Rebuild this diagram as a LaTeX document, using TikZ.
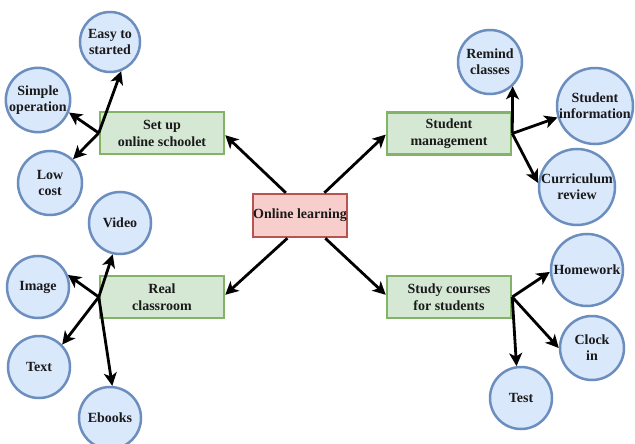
\documentclass[tikz,border=0pt]{standalone}
\usepackage{fontspec}
\setmainfont{Liberation Serif}
\usetikzlibrary{arrows.meta}
\definecolor{cfill}{HTML}{DAE8FC}
\definecolor{cdraw}{HTML}{6C8EBF}
\definecolor{gfill}{HTML}{D5E8D4}
\definecolor{gdraw}{HTML}{82B366}
\definecolor{rfill}{HTML}{F8CECC}
\definecolor{rdraw}{HTML}{B85450}
\definecolor{txt}{HTML}{1A1A1A}
\tikzset{
  bubble/.style={circle, draw=cdraw, fill=cfill, line width=2.5pt, inner sep=0pt,
    align=center, text=txt, font=\fontsize{14}{16}\selectfont\bfseries},
  grp/.style={rectangle, draw=gdraw, fill=gfill, line width=2.5pt, inner sep=0pt,
    minimum width=124pt, minimum height=42pt, align=center, text=txt,
    font=\fontsize{14}{17}\selectfont\bfseries},
  hub/.style={rectangle, draw=rdraw, fill=rfill, line width=2.5pt, inner sep=0pt,
    minimum width=94pt, minimum height=43pt, align=center, text=txt,
    font=\fontsize{14}{17}\selectfont\bfseries},
  arr/.style={line width=2.8pt, -{Stealth[length=13pt,width=13pt,inset=3.5pt]}}
}
\begin{document}
\begin{tikzpicture}[x=1pt,y=-1pt]
\useasboundingbox (0,0) rectangle (635,444);
% hub
\node[hub] (ol) at (300,215.5) {Online learning};
% groups
\node[grp] (setup) at (162,133) {Set up\\online schoolet};
\node[grp] (mgmt) at (449,133.5) {Student\\management};
\node[grp] (real) at (162,297) {Real\\classroom};
\node[grp] (study) at (449,297) {Study courses\\for students};
% bubbles
\node[bubble, minimum size=60pt] (easy) at (110,42) {Easy to\\started};
\node[bubble, minimum size=62pt] (simple) at (38,100) {Simple\\operation};
\node[bubble, minimum size=64pt] (low) at (50,183) {Low\\cost};
\node[bubble, minimum size=64pt] (remind) at (490,62) {Remind\\classes};
\node[bubble, minimum size=72pt] (info) at (595,106) {Student\\information};
\node[bubble, minimum size=72pt] (curr) at (577,187) {Curriculum\\review};
\node[bubble, minimum size=62pt] (video) at (120,223) {Video};
\node[bubble, minimum size=62pt] (image) at (38,287) {Image};
\node[bubble, minimum size=62pt] (text) at (39,367) {Text};
\node[bubble, minimum size=62pt] (ebooks) at (110,418) {Ebooks};
\node[bubble, minimum size=72pt] (hw) at (587,270) {Homework};
\node[bubble, minimum size=64pt] (clock) at (592,348) {Clock\\in};
\node[bubble, minimum size=62pt] (test) at (521,398) {Test};
% hub arrows
\draw[arr] (ol.122) -- (setup.-2);
\draw[arr] (ol.43) -- (mgmt.181);
\draw[arr] (ol.241) -- (real.2);
\draw[arr] (ol.318) -- (study.178);
% group arrows
\draw[arr] (setup.west) -- (easy.-69);
\draw[arr] (setup.west) -- (simple.-22);
\draw[arr] (setup.west) -- (low.46);
\draw[arr] (mgmt.east) -- (remind.-47);
\draw[arr] (mgmt.east) -- (info.197);
\draw[arr] (mgmt.east) -- (curr.174);
\draw[arr] (real.west) -- (video.257);
\draw[arr] (real.west) -- (image.22);
\draw[arr] (real.west) -- (text.44);
\draw[arr] (real.west) -- (ebooks.86);
\draw[arr] (study.east) -- (hw.183);
\draw[arr] (study.east) -- (clock.180);
\draw[arr] (study.east) -- (test.98);
\end{tikzpicture}
\end{document}
